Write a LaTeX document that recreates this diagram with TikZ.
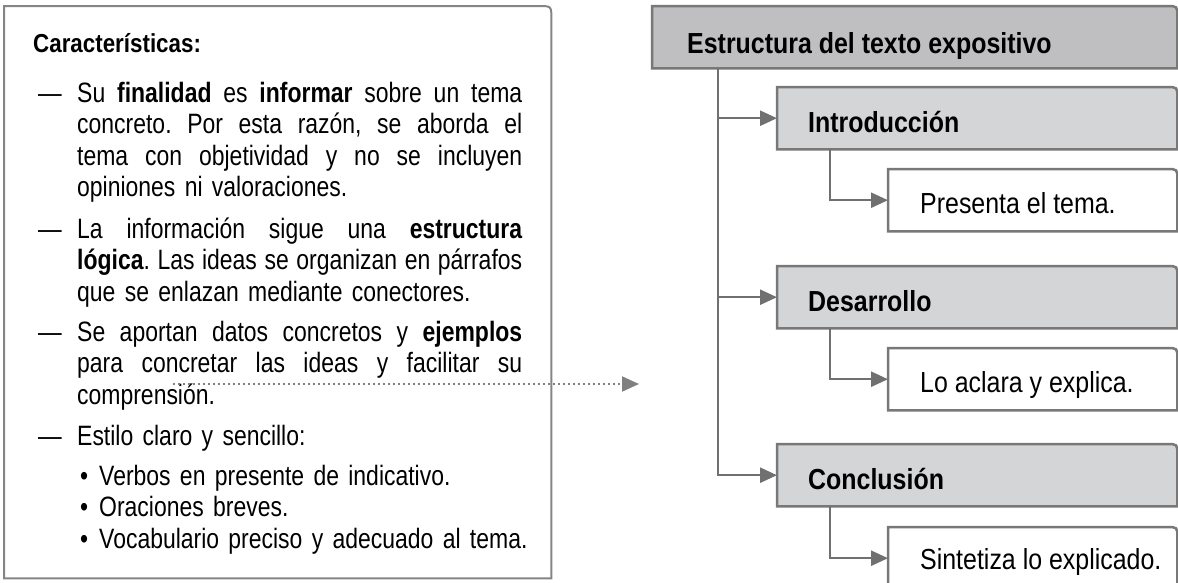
\documentclass[tikz,border=0pt]{standalone}
\usepackage{fontspec}
\setmainfont{Liberation Sans}[FakeStretch=0.86]
\newfontfamily\bodyfam{Liberation Sans}[FakeStretch=0.82]
\usetikzlibrary{arrows.meta,calc,backgrounds}
\definecolor{linegray}{HTML}{707070}
\definecolor{boxgray}{HTML}{787878}
\definecolor{lboxgray}{HTML}{858585}
\definecolor{dotgray}{HTML}{808080}
\definecolor{headfill}{HTML}{BFBFC1}
\definecolor{subfill}{HTML}{D4D5D7}
\newcommand\jl[1]{\makebox[445pt][s]{\spaceskip=\fontdimen2\font plus 1fil minus .4\fontdimen2\font\xspaceskip=\spaceskip #1}}
\newcommand\rcbox[3]{%
  \filldraw[fill=#2, draw=#3, line width=2.5pt]
    (#1.south west) -- (#1.north west) -- ($(#1.north east)+(-11,0)$)
    .. controls (#1.north east) .. ($(#1.north east)+(0,11)$)
    -- (#1.south east) -- cycle;}
\begin{document}
\begin{tikzpicture}[x=1pt,y=-1pt,
  boxnode/.style={anchor=north west, minimum height=62pt, inner sep=0pt, draw=none},
  btext/.style={anchor=base west, inner sep=0pt, font=\fontsize{29}{31}\selectfont\bfseries},
  ptext/.style={anchor=base west, inner sep=0pt, font=\fontsize{29}{31}\selectfont},
  conn/.style={draw=linegray, line width=2.5pt, -{Triangle[length=17pt,width=15pt]}},
  dotarrow/.style={draw=dotgray, line width=2pt, dash pattern=on 2pt off 3pt, -{Triangle[length=17pt,width=15pt]}},
  item/.style={anchor=base west, inner sep=0pt, text width=446pt, font=\bodyfam\fontsize{28}{31.5}\selectfont\frenchspacing},
  bitem/.style={anchor=base west, inner sep=0pt, text width=470pt, font=\bodyfam\fontsize{28}{31.5}\selectfont\frenchspacing},
  dashnode/.style={anchor=base west, inner sep=0pt, font=\fontsize{27.5}{31.5}\selectfont}]
\useasboundingbox (0,0) rectangle (1178,582);

% ---------- left box ----------
\node[anchor=north west, minimum width=547pt, minimum height=572pt, inner sep=0pt] (lbox) at (4,6) {};
\node[anchor=base west, inner sep=0pt, font=\fontsize{26}{28}\selectfont\bfseries] (title) at (33,52) {Características:};

\node[dashnode] (d1) at (38,102) {—};
\node[item] (i1) at (77,102) {\jl{Su \textbf{finalidad} es \textbf{informar} sobre un tema}\\
\jl{concreto. Por esta razón, se aborda el}\\
\jl{tema con objetividad y no se incluyen}\\
opiniones ni valoraciones.};

\node[dashnode] (d2) at (38,238) {—};
\node[item] (i2) at (77,238) {\jl{La información sigue una \textbf{estructura}}\\
\jl{\textbf{lógica}. Las ideas se organizan en párrafos}\\
que se enlazan mediante conectores.};

\node[dashnode] (d3) at (38,341) {—};
\node[item] (i3) at (77,341) {\jl{Se aportan datos concretos y \textbf{ejemplos}}\\
\jl{para concretar las ideas y facilitar su}\\
comprensión.};

\node[dashnode] (d4) at (38,445) {—};
\node[item] (i4) at (77,445) {Estilo claro y sencillo:};

\node[bitem] (bl) at (80,485) {\makebox[19pt][l]{•}Verbos en presente de indicativo.\\
\makebox[19pt][l]{•}Oraciones breves.\\
\makebox[19pt][l]{•}Vocabulario preciso y adecuado al tema.};

% ---------- right side ----------
\node[boxnode, minimum width=525pt] (head) at (652,6) {};
\node[boxnode, minimum width=400pt] (intro) at (777,87) {};
\node[boxnode, minimum width=289pt] (s1) at (888,169) {};
\node[boxnode, minimum width=400pt] (des) at (777,266) {};
\node[boxnode, minimum width=289pt] (s2) at (888,348) {};
\node[boxnode, minimum width=400pt] (conc) at (777,444) {};
\node[boxnode, minimum width=289pt] (s3) at (888,527) {};

\node[btext] (head-t) at ($(head.north west)+(35,47)$) {Estructura del texto expositivo};
\node[btext] (intro-t) at ($(intro.north west)+(31,45)$) {Introducción};
\node[ptext] (s1-t) at ($(s1.north west)+(32,44)$) {Presenta el tema.};
\node[btext] (des-t) at ($(des.north west)+(31,45)$) {Desarrollo};
\node[ptext] (s2-t) at ($(s2.north west)+(32,44)$) {Lo aclara y explica.};
\node[btext] (conc-t) at ($(conc.north west)+(31,45)$) {Conclusión};
\node[ptext] (s3-t) at ($(s3.north west)+(32,42)$) {Sintetiza lo explicado.};

\begin{scope}[on background layer]
  \filldraw[fill=white, draw=lboxgray, line width=2pt]
    (lbox.south west) -- (lbox.north west) -- ($(lbox.north east)+(-13,0)$)
    .. controls (lbox.north east) .. ($(lbox.north east)+(0,13)$)
    -- (lbox.south east) -- cycle;
  \rcbox{head}{headfill}{boxgray}
  \rcbox{intro}{subfill}{boxgray}
  \rcbox{des}{subfill}{boxgray}
  \rcbox{conc}{subfill}{boxgray}
  \rcbox{s1}{white}{boxgray}
  \rcbox{s2}{white}{boxgray}
  \rcbox{s3}{white}{boxgray}
\end{scope}

\coordinate (trunk) at ($(head.south west)+(66,0)$);
\draw[conn] (trunk) |- (intro.west);
\draw[conn] (trunk) |- (des.west);
\draw[conn] (trunk) |- (conc.west);
\draw[conn] ($(intro.south west)+(53,0)$) |- (s1.west);
\draw[conn] ($(des.south west)+(53,0)$) |- (s2.west);
\draw[conn] ($(conc.south west)+(53,0)$) |- (s3.west);

\coordinate (ds) at (173,384);
\coordinate (de) at (639,384);
\draw[dotarrow] (ds) -- (de);
\end{tikzpicture}
\end{document}
